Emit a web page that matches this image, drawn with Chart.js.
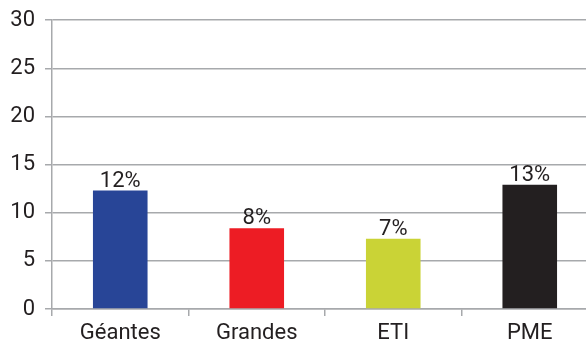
<!DOCTYPE html>
<html lang="fr">
<head>
<meta charset="UTF-8">
<title>Bar chart</title>
<style>
  html, body { margin: 0; padding: 0; background: #fff; overflow: hidden; }
  .chartBox { width: 586px; height: 341px; overflow: hidden; }
  #myChart { display: block; margin-top: -3px; }
</style>
</head>
<body>
<div class="chartBox">
  <canvas id="myChart" width="598" height="344"></canvas>
</div>
<script src="https://cdn.jsdelivr.net/npm/chart.js"></script>
<script>
const categories = ['Géantes', 'Grandes', 'ETI', 'PME'];
const values = [12.3, 8.4, 7.3, 12.9];
const barLabels = ['12%', '8%', '7%', '13%'];
const barColors = ['#284597', '#ed1c24', '#cad336', '#231f20'];
const yTicks = [0, 5, 10, 15, 20, 25, 30];

const gridColor = '#a7a9ac';
const textColor = '#231f20';
const fontFamily = 'Roboto, "DejaVu Sans", sans-serif';

// draws the % text above each bar
const topLabels = {
  id: 'topLabels',
  afterDatasetsDraw(chart) {
    const ctx = chart.ctx;
    const meta = chart.getDatasetMeta(0);
    ctx.save();
    ctx.fillStyle = textColor;
    ctx.font = '22px ' + fontFamily;
    ctx.textAlign = 'center';
    ctx.textBaseline = 'alphabetic';
    meta.data.forEach((bar, i) => {
      ctx.fillText(barLabels[i], bar.x, bar.y - 4);
    });
    ctx.restore();
  }
};

const ctx = document.getElementById('myChart').getContext('2d');
new Chart(ctx, {
  type: 'bar',
  data: {
    labels: categories,
    datasets: [{
      data: values,
      backgroundColor: barColors,
      borderWidth: 0,
      barPercentage: 0.4,
      categoryPercentage: 1
    }]
  },
  options: {
    responsive: false,
    animation: false,
    layout: { padding: { top: 17, right: 0, left: 0, bottom: 0 } },
    plugins: {
      legend: { display: false },
      tooltip: { enabled: false }
    },
    scales: {
      x: {
        offset: true,
        grid: {
          offset: true,
          drawOnChartArea: false,
          color: gridColor,
          lineWidth: 1.5,
          tickLength: 7
        },
        border: { color: gridColor, width: 1.5 },
        ticks: {
          color: textColor,
          font: { size: 22, family: fontFamily },
          padding: 4,
          maxRotation: 0
        },
        afterFit(scale) { scale.height = 32; }
      },
      y: {
        min: 0,
        max: 30,
        afterBuildTicks(scale) { scale.ticks = yTicks.map(v => ({ value: v })); },
        grid: {
          color: gridColor,
          lineWidth: 1.5,
          tickLength: 7
        },
        border: { color: gridColor, width: 1.5 },
        ticks: {
          color: textColor,
          font: { size: 22, family: fontFamily },
          padding: 10
        },
        afterFit(scale) { scale.width = 52; }
      }
    }
  },
  plugins: [topLabels]
});
</script>
</body>
</html>
